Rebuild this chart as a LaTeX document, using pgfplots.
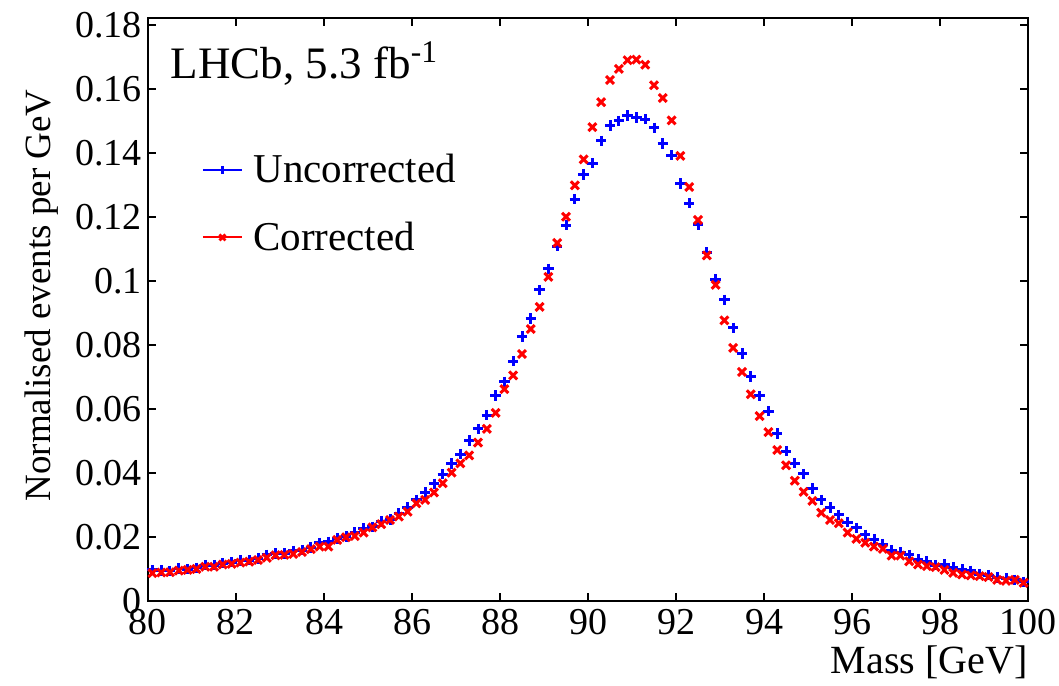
\documentclass[border=0pt]{standalone}
\usepackage{pgfplots}
\pgfplotsset{compat=1.18}
\usepackage{fontspec}
\setmainfont{Liberation Serif}
\definecolor{mblue}{RGB}{0,0,255}
\definecolor{mred}{RGB}{255,0,0}
\begin{document}
\begin{tikzpicture}
\path[use as bounding box] (-74pt,-42pt) rectangle (455.5pt,300.5pt);
\begin{axis}[
  at={(0pt,0pt)}, anchor=south west,
  scale only axis, width=440pt, height=291.5pt,
  xmin=80, xmax=100, ymin=0, ymax=0.1822,
  xtick={80,82,...,100},
  ytick={0,0.02,0.04,0.06,0.08,0.1,0.12,0.14,0.16,0.18},
  tick align=inside,
  major tick length=4pt,
  every tick/.style={black, line width=0.6pt},
  axis line style={black, line width=1pt},
  /pgf/number format/assume math mode=true,
  /pgf/number format/1000 sep={},
  yticklabel style={/pgf/number format/fixed, /pgf/number format/precision=2},
  every tick label/.append style={font=\fontsize{19}{22}\selectfont},
  xticklabel style={yshift=-0.8pt},
  yticklabel style={xshift=0.3pt},
  xlabel={Mass [GeV]},
  xlabel style={at={(axis description cs:1,0)}, anchor=base east, yshift=-36pt, inner sep=0pt, font=\fontsize{20}{24}\selectfont},
  ylabel={Normalised events per GeV},
  ylabel style={at={(axis description cs:-0.1205,0.524)}, anchor=center, inner sep=0pt, font=\fontsize{18.5}{22}\selectfont},
  legend cell align=left,
  legend style={draw=none, fill=none, at={(axis description cs:0.0608,0.767)}, anchor=north west, inner sep=0pt, row sep=18pt, font=\fontsize{20.5}{24}\selectfont, nodes={inner sep=0pt}},
  legend image code/.code={
    \draw[#1, line width=1pt] (0pt,0pt) -- (19.5pt,0pt);
    \draw[#1, line width=1.4pt, mark size=2.1pt] plot[only marks] coordinates {(9.75pt,0pt)};
    \path (24.5pt,0pt);
  },
]
\addplot[only marks, mark=+, color=mblue, mark size=2.6pt, line width=1.5pt] coordinates {
(80.1,0.0097)(80.3,0.0095)(80.5,0.0094)(80.7,0.0102)(80.9,0.0100)
(81.1,0.0104)(81.3,0.0112)(81.5,0.0112)(81.7,0.0118)(81.9,0.0121)
(82.1,0.0126)(82.3,0.0128)(82.5,0.0133)(82.7,0.0144)(82.9,0.0149)
(83.1,0.0149)(83.3,0.0157)(83.5,0.0159)(83.7,0.0167)(83.9,0.0182)
(84.1,0.0185)(84.3,0.0195)(84.5,0.0201)(84.7,0.0214)(84.9,0.0227)
(85.1,0.0232)(85.3,0.0248)(85.5,0.0255)(85.7,0.0274)(85.9,0.0293)
(86.1,0.0316)(86.3,0.0339)(86.5,0.0366)(86.7,0.0396)(86.9,0.0430)
(87.1,0.0459)(87.3,0.0501)(87.5,0.0538)(87.7,0.0581)(87.9,0.0642)
(88.1,0.0685)(88.3,0.0750)(88.5,0.0826)(88.7,0.0883)(88.9,0.0972)
(89.1,0.1038)(89.3,0.1109)(89.5,0.1175)(89.7,0.1256)(89.9,0.1333)
(90.1,0.1368)(90.3,0.1438)(90.5,0.1486)(90.7,0.1501)(90.9,0.1517)
(91.1,0.1511)(91.3,0.1506)(91.5,0.1479)(91.7,0.1430)(91.9,0.1393)
(92.1,0.1305)(92.3,0.1243)(92.5,0.1176)(92.7,0.1090)(92.9,0.1006)
(93.1,0.0941)(93.3,0.0854)(93.5,0.0774)(93.7,0.0701)(93.9,0.0641)
(94.1,0.0593)(94.3,0.0524)(94.5,0.0468)(94.7,0.0431)(94.9,0.0397)
(95.1,0.0351)(95.3,0.0316)(95.5,0.0292)(95.7,0.0269)(95.9,0.0246)
(96.1,0.0229)(96.3,0.0207)(96.5,0.0193)(96.7,0.0178)(96.9,0.0159)
(97.1,0.0151)(97.3,0.0144)(97.5,0.0130)(97.7,0.0124)(97.9,0.0112)
(98.1,0.0115)(98.3,0.0105)(98.5,0.0099)(98.7,0.0094)(98.9,0.0084)
(99.1,0.0081)(99.3,0.0074)(99.5,0.0071)(99.7,0.0066)(99.9,0.0060)
};
\addlegendentry{Uncorrected}
\addplot[only marks, mark=x, color=mred, mark size=2.8pt, line width=1.5pt] coordinates {
(80.1,0.0087)(80.3,0.0089)(80.5,0.0090)(80.7,0.0095)(80.9,0.0097)
(81.1,0.0100)(81.3,0.0107)(81.5,0.0107)(81.7,0.0114)(81.9,0.0116)
(82.1,0.0120)(82.3,0.0123)(82.5,0.0128)(82.7,0.0135)(82.9,0.0143)
(83.1,0.0144)(83.3,0.0147)(83.5,0.0153)(83.7,0.0162)(83.9,0.0170)
(84.1,0.0170)(84.3,0.0191)(84.5,0.0199)(84.7,0.0203)(84.9,0.0214)
(85.1,0.0230)(85.3,0.0240)(85.5,0.0253)(85.7,0.0264)(85.9,0.0279)
(86.1,0.0305)(86.3,0.0316)(86.5,0.0339)(86.7,0.0368)(86.9,0.0401)
(87.1,0.0430)(87.3,0.0455)(87.5,0.0495)(87.7,0.0538)(87.9,0.0588)
(88.1,0.0662)(88.3,0.0705)(88.5,0.0772)(88.7,0.0850)(88.9,0.0919)
(89.1,0.1013)(89.3,0.1119)(89.5,0.1201)(89.7,0.1299)(89.9,0.1380)
(90.1,0.1481)(90.3,0.1559)(90.5,0.1628)(90.7,0.1663)(90.9,0.1690)
(91.1,0.1692)(91.3,0.1676)(91.5,0.1612)(91.7,0.1572)(91.9,0.1502)
(92.1,0.1391)(92.3,0.1294)(92.5,0.1191)(92.7,0.1080)(92.9,0.0988)
(93.1,0.0877)(93.3,0.0791)(93.5,0.0716)(93.7,0.0646)(93.9,0.0578)
(94.1,0.0528)(94.3,0.0472)(94.5,0.0424)(94.7,0.0376)(94.9,0.0341)
(95.1,0.0313)(95.3,0.0276)(95.5,0.0253)(95.7,0.0243)(95.9,0.0214)
(96.1,0.0194)(96.3,0.0182)(96.5,0.0170)(96.7,0.0163)(96.9,0.0142)
(97.1,0.0142)(97.3,0.0124)(97.5,0.0114)(97.7,0.0109)(97.9,0.0106)
(98.1,0.0097)(98.3,0.0088)(98.5,0.0083)(98.7,0.0080)(98.9,0.0078)
(99.1,0.0075)(99.3,0.0066)(99.5,0.0063)(99.7,0.0066)(99.9,0.0057)
};
\addlegendentry{Corrected}
\node[anchor=base west, inner sep=0pt, font=\fontsize{22.5}{26}\selectfont] at (axis description cs:0.0256,0.897) {LHCb, 5.3 fb\textsuperscript{-1}};
\end{axis}
\end{tikzpicture}
\end{document}
